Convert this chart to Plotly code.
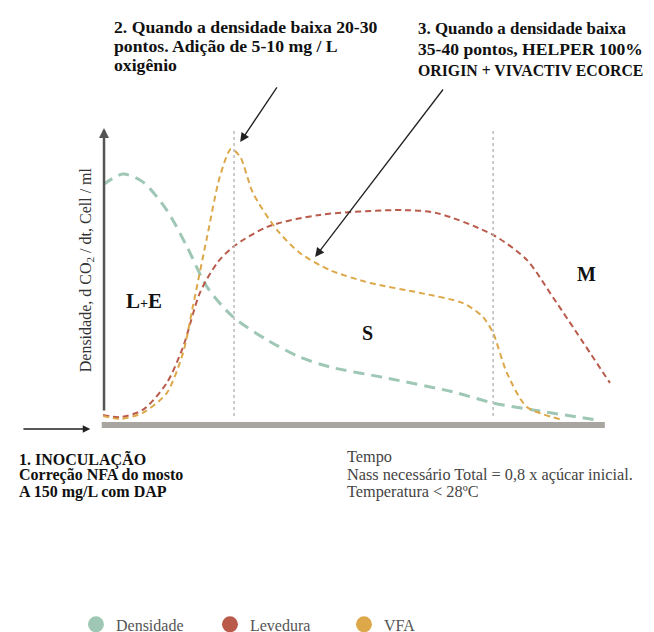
import plotly.graph_objects as go

# ---- data (x: time units 0-100, y: relative level 0-100) ----
dens_x = [0, 3.9, 7.8, 12.5, 16.5, 20.4, 25.5, 32.2, 38.6, 44.5, 55.7, 68.6, 76.5, 84.3, 96.9]
dens_y = [79.7, 83.3, 80.7, 71.3, 59, 45.7, 35.7, 28, 22.3, 19, 15.3, 10.7, 7, 4.7, 1.3]

lev_x = [0, 3.3, 7.8, 12.5, 15.7, 19, 22.4, 25.5, 32.2, 42.5, 58.8, 65.5, 76.5, 83.1, 88.2, 99.4]
lev_y = [3, 2.3, 4.7, 13.7, 25.7, 43.7, 53.7, 59, 65.7, 69.7, 71.3, 70.3, 63, 54.7, 42.3, 13.7]

vfa_x = [0, 3.3, 7.8, 12.5, 15.7, 17.6, 20.4, 22.9, 25.1, 26.9, 29.4, 34.1, 38.6, 44.5, 52.4, 62.2, 70.6, 74.5, 76.5, 79.2, 83.1, 90.2]
vfa_y = [2.7, 1.7, 3.7, 10.3, 23.7, 39, 62.3, 82.4, 91.7, 89.1, 77, 64.7, 57, 51.3, 47, 43.7, 40.3, 35.7, 30.3, 17, 5.7, 1.3]

series_names = ["Densidade", "Levedura", "VFA"]
phase_lines_x = [25.7, 76.5]

GREEN = "#9fc7b5"
RED = "#b95a4a"
YELLOW = "#dca84a"
FONT = "Liberation Serif, serif"

fig = go.Figure()

fig.add_trace(go.Scatter(x=dens_x, y=dens_y, mode="lines", showlegend=False, hoverinfo="skip",
                         line=dict(color=GREEN, width=3, dash="11px,7px", shape="spline", smoothing=0.8)))
fig.add_trace(go.Scatter(x=lev_x, y=lev_y, mode="lines", showlegend=False, hoverinfo="skip",
                         line=dict(color=RED, width=2, dash="6px,4px", shape="spline", smoothing=0.8)))
fig.add_trace(go.Scatter(x=vfa_x, y=vfa_y, mode="lines", showlegend=False, hoverinfo="skip",
                         line=dict(color=YELLOW, width=2, dash="6px,4px", shape="spline", smoothing=0.7)))

for name, col in zip(series_names, [GREEN, RED, YELLOW]):
    fig.add_trace(go.Scatter(x=[None], y=[None], mode="markers", name=name,
                             marker=dict(size=16, color=col)))

shapes = []
for vx in phase_lines_x:
    shapes.append(dict(type="line", x0=vx, x1=vx, y0=2.7, y1=98, xref="x", yref="y",
                       line=dict(color="#bbbbbb", width=1.5, dash="3px,3px")))
shapes.append(dict(type="line", x0=-0.0025, x1=0.984, y0=-0.003, y1=-0.003, xref="paper", yref="paper",
                   line=dict(color="#a9a5a1", width=6), layer="below"))

ann = []

def arrow(hx, hy, tx, ty, width, color, size):
    ann.append(dict(x=hx / 100, y=hy / 100, ax=tx / 100, ay=ty / 100, xref="x domain", yref="y domain",
                    axref="x domain", ayref="y domain", text="", showarrow=True, arrowhead=2,
                    arrowsize=size, arrowwidth=width, arrowcolor=color))

# axes arrows
arrow(0.2, 98.7, 0.2, 4, 2.5, "#555", 0.8)
arrow(-2.5, -1.7, -15.9, -1.7, 1.5, "#222", 1)
# pointer arrows
arrow(26.9, 94, 34.3, 112.7, 1.3, "#222", 1.4)
arrow(41.6, 55.7, 66.9, 112, 1.3, "#222", 1.4)

def txt(s, x, y, size, bold=False, color="#111", xanchor="left"):
    ann.append(dict(x=x / 100, y=y / 100, xref="paper", yref="paper",
                    text=("<b>%s</b>" % s) if bold else s,
                    showarrow=False, xanchor=xanchor, yanchor="middle",
                    font=dict(family=FONT, size=size, color=color)))

for s, y in zip(["2. Quando a densidade baixa 20-30", "pontos. Adição de 5-10 mg / L", "oxigênio"],
                [132.4, 126.1, 119.7]):
    txt(s, 1.76, y, 17.7, bold=True)
for s, y, sz in zip(["3. Quando a densidade baixa", "35-40 pontos, HELPER 100%", "ORIGIN + VIVACTIV ECORCE"],
                    [131.7, 125.1, 117.8], [16.9, 17.6, 15.8]):
    txt(s, 61.4, y, sz, bold=True)
for s, y in zip(["1. INOCULAÇÃO", "Correção NFA do mosto", "A 150 mg/L com DAP"], [-11.8, -17.1, -22.5]):
    txt(s, -16.9, y, 16, bold=True)
for s, y in zip(["Tempo", "Nass necessário Total = 0,8 x açúcar inicial.", "Temperatura < 28ºC"],
                [-10.7, -16.7, -22.4]):
    txt(s, 47.5, y, 16.3, color="#444")

txt("L<span style='font-size:14px'>+</span>E", 8.0, 41, 21, bold=True, xanchor="center")
txt("S", 51.8, 30.3, 20, bold=True, xanchor="center")
txt("M", 94.9, 50, 20, bold=True, xanchor="center")

ann.append(dict(x=-0.033, y=0.513, xref="paper", yref="paper",
                text="Densidade, d CO<sub>2</sub> / dt, Cell / ml",
                textangle=-90, showarrow=False, xanchor="center", yanchor="middle",
                font=dict(family=FONT, size=16, color="#333")))

# page body has an 8px margin: figure is 646x624 so the page is 654x632
fig.update_layout(
    width=646, height=624,
    margin=dict(l=95, r=41, t=116, b=208, autoexpand=False),
    paper_bgcolor="white", plot_bgcolor="white",
    xaxis=dict(range=[0, 100], visible=False, fixedrange=True),
    yaxis=dict(range=[0, 100], visible=False, fixedrange=True),
    shapes=shapes, annotations=ann,
    showlegend=True,
    legend=dict(orientation="h", x=-0.053, xanchor="left", y=-0.668, yanchor="middle",
                font=dict(family=FONT, size=16, color="#555"),
                entrywidth=89, entrywidthmode="pixels"),
)

fig.write_html("out.html")
